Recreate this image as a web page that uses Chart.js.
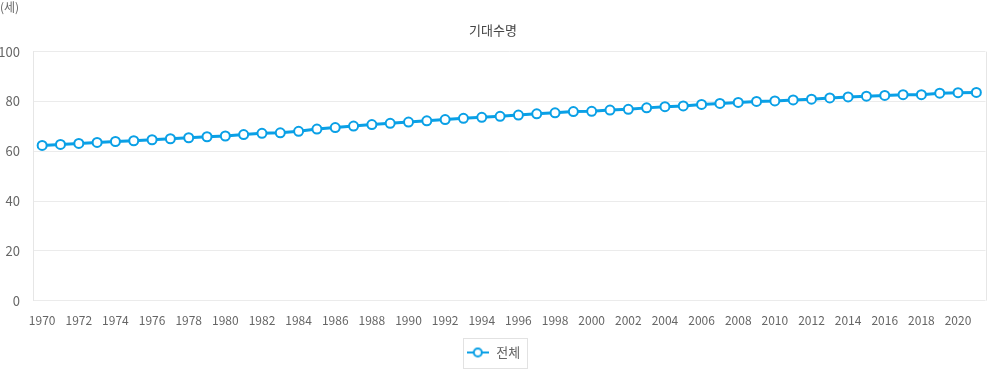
<!DOCTYPE html>
<html>
<head>
<meta charset="utf-8">
<script src="https://cdn.jsdelivr.net/npm/chart.js@4"></script>
<style>
  html, body { margin: 0; padding: 0; background: #fff; }
  #wrap { width: 992px; height: 369px; position: relative; }
</style>
</head>
<body>
<div id="wrap"><canvas id="lifeChart"></canvas></div>
<script>
// 연도 (categories)
const years = [];
for (let y = 1970; y <= 2021; y++) years.push(String(y));

// 기대수명 - 전체
const lifeTotal = [
  62.3, 62.7, 63.1, 63.5, 63.9, 64.2, 64.6, 65.0, 65.4, 65.8,
  66.1, 66.7, 67.2, 67.4, 68.0, 68.9, 69.5, 70.1, 70.7, 71.2,
  71.7, 72.2, 72.7, 73.2, 73.6, 74.0, 74.5, 75.0, 75.4, 75.9,
  76.0, 76.5, 76.8, 77.4, 77.9, 78.2, 78.8, 79.2, 79.6, 80.0,
  80.2, 80.6, 80.9, 81.4, 81.8, 82.1, 82.4, 82.7, 82.7, 83.3,
  83.5, 83.6
];

const yTicks = [0, 20, 40, 60, 80, 100];

const FONT = "'Noto Sans CJK KR', 'Noto Sans', sans-serif";
const lineColor = '#0aa0e6';

// legend marker: short line with a hollow circle
const marker = document.createElement('canvas');
marker.width = 22; marker.height = 12;
(function () {
  const c = marker.getContext('2d');
  c.strokeStyle = lineColor;
  c.lineWidth = 2;
  c.beginPath(); c.moveTo(0, 6); c.lineTo(22, 6); c.stroke();
  c.fillStyle = '#fff';
  c.beginPath(); c.arc(11, 6, 4, 0, Math.PI * 2); c.fill(); c.stroke();
})();

// draws the unit label, the right frame line and the box around the legend
const extras = {
  id: 'extras',
  afterDraw(chart) {
    const ctx = chart.ctx;
    const area = chart.chartArea;
    ctx.save();
    ctx.font = '12px ' + FONT;
    ctx.fillStyle = '#666';
    ctx.textBaseline = 'top';
    ctx.textAlign = 'left';
    ctx.fillText('(세)', 0, 1);

    ctx.strokeStyle = '#e6e6e6';
    ctx.lineWidth = 1;
    ctx.beginPath();
    ctx.moveTo(Math.round(area.right) + 0.5, area.top);
    ctx.lineTo(Math.round(area.right) + 0.5, area.bottom);
    ctx.stroke();

    const lg = chart.legend;
    if (lg && lg.legendItems.length) {
      const hit = lg.legendHitBoxes[0];
      const cy = hit.top + hit.height / 2;
      const x = Math.round(hit.left - 3) + 0.5;
      const y = Math.round(cy - 15) + 0.5;
      ctx.strokeStyle = '#e2e2e2';
      ctx.strokeRect(x, y, Math.round(hit.width + 10), 30);
    }
    ctx.restore();
  }
};

new Chart(document.getElementById('lifeChart'), {
  type: 'line',
  data: {
    labels: years,
    datasets: [{
      label: '전체',
      data: lifeTotal,
      borderColor: lineColor,
      backgroundColor: '#fff',
      borderWidth: 3,
      pointRadius: 4.5,
      pointBorderWidth: 2,
      pointBackgroundColor: '#fff',
      pointBorderColor: lineColor,
      tension: 0
    }]
  },
  options: {
    responsive: true,
    maintainAspectRatio: false,
    animation: false,
    layout: { padding: { left: 0, right: 6, top: 0, bottom: 0 } },
    plugins: {
      title: {
        display: true,
        text: '기대수명',
        color: '#444',
        font: { family: FONT, size: 13, weight: 'normal' },
        padding: { top: 22, bottom: 14 }
      },
      legend: {
        position: 'bottom',
        labels: {
          color: '#666',
          font: { family: FONT, size: 13 },
          generateLabels() {
            return [{
              text: '전체',
              pointStyle: marker,
              fontColor: '#666',
              lineWidth: 0,
              datasetIndex: 0
            }];
          },
          usePointStyle: true,
          pointStyleWidth: 24,
          boxHeight: 12,
          padding: 11
        }
      },
      tooltip: { enabled: false }
    },
    scales: {
      x: {
        offset: true,
        afterFit(scale) { scale.height += 2; },
        grid: { display: false },
        border: { display: false },
        ticks: {
          autoSkip: false,
          maxRotation: 0,
          color: '#666',
          font: { family: FONT, size: 12 },
          padding: 5,
          callback(v, i) { return i % 2 === 0 ? years[i] : ''; }
        }
      },
      y: {
        min: 0,
        max: 100,
        afterFit(scale) { scale.width = 33; },
        afterBuildTicks(scale) { scale.ticks = yTicks.map(v => ({ value: v })); },
        grid: { color: '#ebebeb', drawTicks: false },
        border: { display: true, color: '#e6e6e6' },
        ticks: {
          color: '#666',
          font: { family: FONT, size: 13 },
          padding: 13
        }
      }
    }
  },
  plugins: [extras]
});
</script>
</body>
</html>
